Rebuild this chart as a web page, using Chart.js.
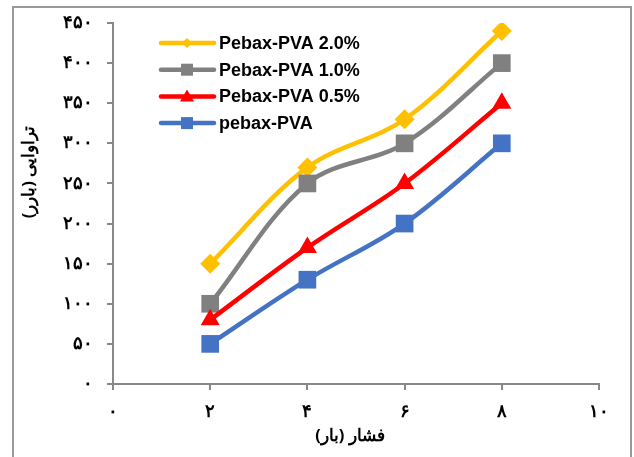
<!DOCTYPE html>
<html>
<head>
<meta charset="utf-8">
<script src="https://cdn.jsdelivr.net/npm/chart.js@4.4.1/dist/chart.umd.min.js"></script>
<style>
body { margin: 0; background: #fff; }
</style>
</head>
<body>
<canvas id="permChart" width="634" height="457"></canvas>
<script>
var pressure = [2, 4, 6, 8];
var pebaxPVA = [50, 130, 200, 300];
var pebaxPVA05 = [80, 170, 250, 350];
var pebaxPVA10 = [100, 250, 300, 400];
var pebaxPVA20 = [150, 270, 330, 440];
var seriesNames = ['pebax-PVA', 'Pebax-PVA 0.5%', 'Pebax-PVA 1.0%', 'Pebax-PVA 2.0%'];
var xTickLabels = ['۰', '۲', '۴', '۶', '۸', '۱۰'];
var yTickLabels = ['۰', '۵۰', '۱۰۰', '۱۵۰', '۲۰۰', '۲۵۰', '۳۰۰', '۳۵۰', '۴۰۰', '۴۵۰'];
var xTitle = 'فشار (بار)';
var yTitle = 'تراوایی (بارر)';

var tickFont = { family: '"Noto Sans"', size: 18, weight: 'bold', lineHeight: 1 };

function toPoints(ys) {
    return pressure.map(function (x, i) { return { x: x, y: ys[i] }; });
}

function series(label, ys, color, style, radius) {
    return {
        label: label,
        data: toPoints(ys),
        borderColor: color,
        backgroundColor: color,
        borderWidth: 4.5,
        pointStyle: style,
        pointRadius: radius,
        pointHoverRadius: radius,
        pointBorderWidth: 0,
        tension: 0.35
    };
}

// frame round the whole chart (no bottom edge in the original)
var framePlugin = {
    id: 'frame',
    beforeDraw: function (chart) {
        var c = chart.ctx;
        c.save();
        c.fillStyle = '#fff';
        c.fillRect(0, 0, chart.width, chart.height);
        c.strokeStyle = '#9a9a9a';
        c.lineWidth = 2;
        c.beginPath();
        c.moveTo(13, 457);
        c.lineTo(13, 7);
        c.lineTo(631, 7);
        c.lineTo(631, 457);
        c.stroke();
        c.restore();
    }
};

// axis titles, placed where the original has them
var titlesPlugin = {
    id: 'axisTitles',
    afterDraw: function (chart) {
        var c = chart.ctx;
        c.save();
        c.fillStyle = '#000';
        c.font = 'bold 16.5px "Noto Sans"';
        c.direction = 'rtl';
        c.textAlign = 'center';
        c.textBaseline = 'middle';
        c.fillText(xTitle, 350, 436);
        c.translate(29, 172);
        c.rotate(-Math.PI / 2);
        c.fillText(yTitle, 0, 0);
        c.restore();
    }
};

// legend inside the plot, last series first
var legendPlugin = {
    id: 'insideLegend',
    afterDatasetsDraw: function (chart) {
        var c = chart.ctx;
        var sets = chart.data.datasets.slice().reverse();
        c.save();
        sets.forEach(function (ds, i) {
            var y = 43 + i * 26.7;
            c.strokeStyle = ds.borderColor;
            c.fillStyle = ds.borderColor;
            c.lineWidth = 4.5;
            c.lineCap = 'round';
            c.beginPath();
            c.moveTo(161, y);
            c.lineTo(214, y);
            c.stroke();
            c.beginPath();
            if (ds.pointStyle === 'rect') {
                c.rect(181, y - 6, 12, 12);
            } else if (ds.pointStyle === 'triangle') {
                c.moveTo(187, y - 7);
                c.lineTo(194, y + 5);
                c.lineTo(180, y + 5);
                c.closePath();
            } else {
                c.moveTo(187, y - 5);
                c.lineTo(192, y);
                c.lineTo(187, y + 5);
                c.lineTo(182, y);
                c.closePath();
            }
            c.fill();
            c.fillStyle = '#000';
            c.font = 'bold 18px "Liberation Sans"';
            c.textAlign = 'left';
            c.textBaseline = 'middle';
            c.fillText(ds.label, 219, y + 1);
        });
        c.restore();
    }
};

var ctx = document.getElementById('permChart').getContext('2d');
var permChart = new Chart(ctx, {
    type: 'line',
    data: {
        datasets: [
            series(seriesNames[0], pebaxPVA, '#4472C4', 'rect', 12.5),
            series(seriesNames[1], pebaxPVA05, '#FF0000', 'triangle', 11),
            series(seriesNames[2], pebaxPVA10, '#808080', 'rect', 12.5),
            series(seriesNames[3], pebaxPVA20, '#FFC000', 'rectRot', 10)
        ]
    },
    options: {
        responsive: false,
        animation: false,
        layout: {
            padding: { top: 21, right: 35, left: 0, bottom: 0 }
        },
        scales: {
            x: {
                type: 'linear',
                min: 0,
                max: 10,
                afterFit: function (s) { s.height = 73; },
                afterBuildTicks: function (s) {
                    s.ticks = [0, 2, 4, 6, 8, 10].map(function (v) { return { value: v }; });
                },
                ticks: {
                    color: '#000',
                    font: tickFont,
                    padding: 13,
                    maxRotation: 0,
                    callback: function (v, i) { return xTickLabels[i]; }
                },
                grid: {
                    drawOnChartArea: false,
                    color: '#888',
                    lineWidth: 2,
                    tickLength: 6
                },
                border: { color: '#888', width: 2 }
            },
            y: {
                min: 0,
                max: 450,
                afterFit: function (s) { s.width = 113; },
                ticks: {
                    stepSize: 50,
                    color: '#000',
                    font: tickFont,
                    padding: 14,
                    callback: function (v, i) { return yTickLabels[i]; }
                },
                grid: {
                    drawOnChartArea: false,
                    color: '#888',
                    lineWidth: 2,
                    tickLength: 6
                },
                border: { color: '#888', width: 2 }
            }
        },
        plugins: {
            legend: { display: false },
            tooltip: { enabled: false }
        }
    },
    plugins: [framePlugin, legendPlugin, titlesPlugin]
});
</script>
</body>
</html>
